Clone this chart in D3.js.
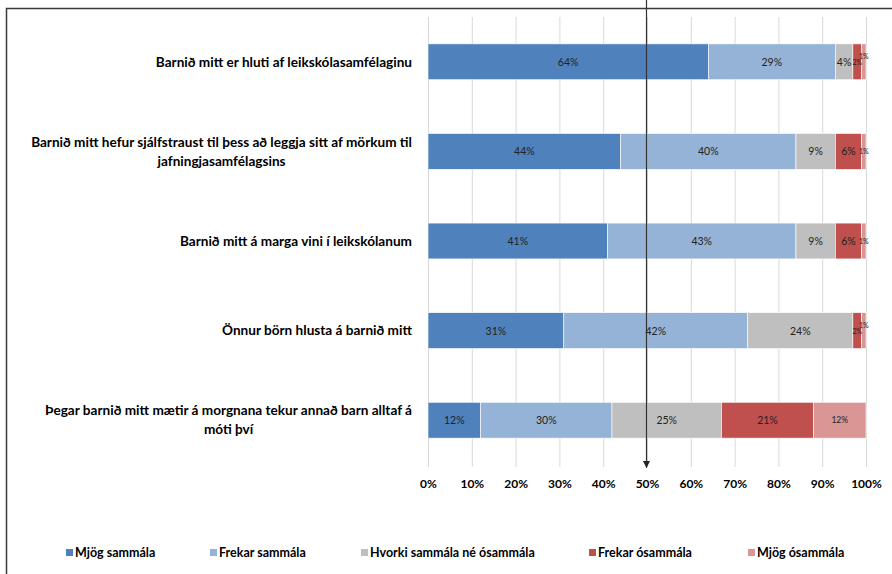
<!DOCTYPE html>
<html><head><meta charset="utf-8">
<script src="https://cdn.jsdelivr.net/npm/d3@7"></script>
<style>body{margin:0;background:#fff}svg{display:block}</style>
</head><body>
<svg id="c" width="892" height="574"></svg>
<script>
const categories = [
  ["Barnið mitt er hluti af leikskólasamfélaginu"],
  ["Barnið mitt hefur sjálfstraust til þess að leggja sitt af mörkum til", "jafningjasamfélagsins"],
  ["Barnið mitt á marga vini í leikskólanum"],
  ["Önnur börn hlusta á barnið mitt"],
  ["Þegar barnið mitt mætir á morgnana tekur annað barn alltaf á", "móti því"]
];
const seriesNames = ["Mjög sammála", "Frekar sammála", "Hvorki sammála né ósammála", "Frekar ósammála", "Mjög ósammála"];
const mjogSammala    = [64, 44, 41, 31, 12];
const frekarSammala  = [29, 40, 43, 42, 30];
const hvorki         = [4, 9, 9, 24, 25];
const frekarOsammala = [2, 6, 6, 2, 21];
const mjogOsammala   = [1, 1, 1, 1, 12];
const tickValues = [0, 10, 20, 30, 40, 50, 60, 70, 80, 90, 100];
const colors = ["#4F81BD", "#95B3D7", "#BFBFBF", "#C0504D", "#D99694"];

const seriesVals = [mjogSammala, frekarSammala, hvorki, frekarOsammala, mjogOsammala];
const font = "Lato, 'Open Sans', sans-serif";
const svg = d3.select("#c");

// outer border
svg.append("rect").attr("x", 6.5).attr("y", 8.5).attr("width", 1000).attr("height", 1000)
  .attr("fill", "none").attr("stroke", "#3a3a3a").attr("stroke-width", 1.5);

const x = d3.scaleLinear().domain([0, 100]).range([428, 866]);
const y = d3.scaleBand().domain(d3.range(categories.length)).range([17, 465]).paddingInner(0.6).paddingOuter(0.3);

// gridlines
svg.append("g").selectAll("line").data(tickValues).join("line")
  .attr("x1", d => x(d) + 0.5).attr("x2", d => x(d) + 0.5)
  .attr("y1", 17).attr("y2", 467)
  .attr("stroke", "#d9d9d9").attr("stroke-width", 1);

// axis labels
const xAxis = d3.axisBottom(x).tickValues(tickValues).tickFormat(d => d + "%").tickSize(0).tickPadding(0);
const ax = svg.append("g").attr("transform", "translate(0,482)").call(xAxis);
ax.select(".domain").remove();
ax.selectAll("text").attr("font-family", font).attr("font-weight", "bold").attr("font-size", 12).attr("fill", "#000").attr("dy", "0.5em");

// stacked data
const rows = categories.map((c, i) => {
  let acc = 0;
  return seriesVals.map((s, k) => {
    const v = s[i];
    const seg = {row: i, k, v, x0: acc, x1: acc + v};
    acc += v;
    return seg;
  });
});

const bars = svg.append("g");
rows.forEach((segs, i) => {
  bars.selectAll(null).data(segs).join("rect")
    .attr("x", d => x(d.x0)).attr("width", d => x(d.x1) - x(d.x0))
    .attr("y", y(i)).attr("height", y.bandwidth())
    .attr("fill", d => colors[d.k]).attr("stroke", "#fff").attr("stroke-width", 0.6);
  bars.selectAll(null).data(segs).join("text")
    .attr("x", d => x((d.x0 + d.x1) / 2))
    .attr("y", (d, j) => y(i) + y.bandwidth() / 2 - (d.v <= 1 && j > 0 && segs[j - 1].v <= 2 ? 6 : 0))
    .attr("text-anchor", "middle").attr("dominant-baseline", "central")
    .attr("font-family", font)
    .attr("font-size", d => (d.v <= 2 ? 7 : (d.k === 4 ? 8.5 : 10.5)))
    .attr("fill", "#222")
    .text(d => d.v + "%");
});

// category labels
const labG = svg.append("g");
categories.forEach((lines, i) => {
  const cy = y(i) + y.bandwidth() / 2;
  const lh = 19;
  const t = labG.append("text").attr("font-family", font).attr("font-weight", "bold").attr("font-size", 13.6).attr("fill", "#000");
  const spans = lines.map((l, j) => t.append("tspan").text(l)
      .attr("y", cy + (j - (lines.length - 1) / 2) * lh).attr("dy", "0.35em"));
  const widths = spans.map(s => s.node().getComputedTextLength());
  const maxW = d3.max(widths);
  const center = 412 - maxW / 2;
  spans.forEach(s => s.attr("x", center).attr("text-anchor", "middle"));
});

// 50% arrow line
const defs = svg.append("defs");
defs.append("marker").attr("id", "arr").attr("viewBox", "0 0 10 10").attr("refX", 10).attr("refY", 5)
  .attr("markerWidth", 6).attr("markerHeight", 6).attr("orient", "auto")
  .append("path").attr("d", "M0,0 L10,5 L0,10 Z").attr("fill", "#222");
svg.append("line").attr("x1", x(50) - 0.5).attr("x2", x(50) - 0.5).attr("y1", 0).attr("y2", 468)
  .attr("stroke", "#333").attr("stroke-width", 1.2).attr("marker-end", "url(#arr)");

// legend
const legendX = [66, 210, 361, 589, 748];
const lg = svg.append("g");
seriesNames.forEach((n, k) => {
  lg.append("rect").attr("x", legendX[k]).attr("y", 549).attr("width", 7).attr("height", 7).attr("fill", colors[k]);
  lg.append("text").attr("x", legendX[k] + 9).attr("y", 553).attr("dy", "0.35em")
    .attr("font-family", font).attr("font-weight", "bold").attr("font-size", 12.5).attr("fill", "#000").text(n);
});
</script>
</body></html>
